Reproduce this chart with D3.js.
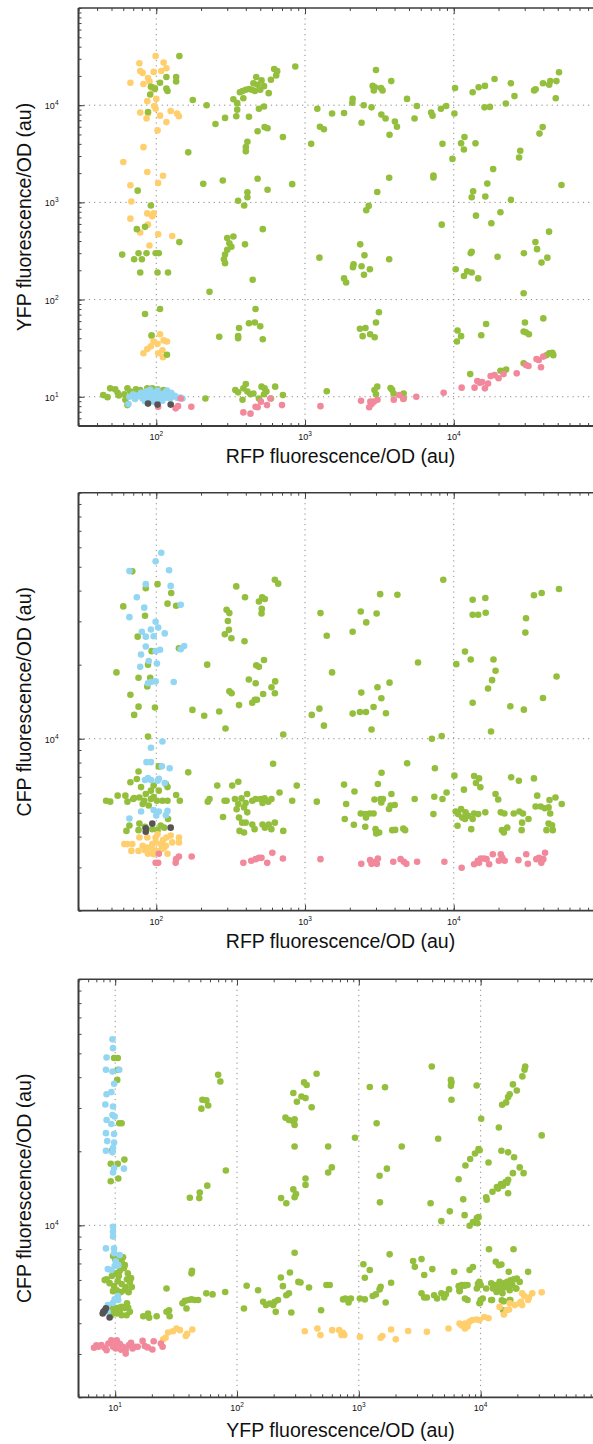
<!DOCTYPE html>
<html>
<head>
<meta charset="utf-8">
<script src="https://cdn.jsdelivr.net/npm/d3@7"></script>
<style>
  body { margin: 0; background: #fff; }
  svg { display: block; font-family: "Liberation Sans", Arial, Helvetica, sans-serif; }
</style>
</head>
<body>
<div id="chart"></div>
<script>
// ---- panel 1 : YFP vs RFP
const p1Yellow = [[77,27000],[99,32000],[112,27500],[78,22500],[81,21500],[96,22000],[108,22500],[117,24000],[88,19000],[90,17500],[67,17000],[82,16500],[97,15200],[95,14400],[100,11600],[87,11000],[97,9800],[99,9200],[78,8400],[88,8200],[106,7800],[125,8700],[138,8200],[142,7700],[86,7300],[117,6700],[102,5500],[82,3700],[60,2600],[87,2050],[111,1880],[103,1580],[67,1500],[68,1020],[87,770],[96,770],[94,720],[67,680],[88,590],[78,490],[103,470],[128,450],[90,360],
  [92,33],[106,44],[96,37],[102,35],[112,38],[118,37],[87,31],[82,28],[103,28],[110,30],[111,25.5],[93,42]];
const p1Green = [[143,32000],[117,19500],[136,19500],[136,17500],[106,17000],[92,15500],[98,14800],[117,14800],[119,14000],[91,12900],[176,11300],[218,10000],[88,8500],[164,3270],[75,1320],[92,930],[74,530],[84,560],[143,390],[59,290],[76,300],[86,300],[99,300],[104,300],[71,260],[80,260],[78,190],[102,190],[120,190],[228,120],[84,71],[106,80],[93,43],[118,27],
  [860,25000],[620,23500],[650,22400],[640,20200],[590,18300],[470,19500],[510,18000],[450,16800],[480,16200],[530,15700],[500,14400],[440,14400],[420,14700],[400,14400],[380,14000],[365,13600],[330,11500],[385,11800],[460,14000],[570,13300],[350,10500],[490,9200],[530,9700],[350,9000],[290,7400],[345,7700],[420,7600],[250,6400],[480,5400],[535,5950],[560,5800],[710,4700],[410,4200],[400,3700],[400,3350],[207,1550],[280,1680],[480,1750],[820,1540],[560,1350],[410,1270],[410,1130],[355,1040],[390,930],[520,530],[300,430],[330,445],[310,380],[320,350],[300,325],[290,290],[285,260],[290,237],[395,370],[445,160],[465,80],[420,57],[460,58],[500,53],[360,51],[355,42],[355,40],[265,41.5],[520,39],
  [44,10.4],[47,9.9],[49,12.2],[53,11.9],[55,11.0],[64,12.2],[62,9.3],[64,8.2],[67,11.3],[73,11.9],[78,11.7],[87,12.2],[94,12.2],[102,11.9],[112,11.7],[71,10.4],[83,10.8],[118,10.8],[61,10.6],[56,10.3],[76,10.2],[89,11.4],[214,9.6],
  [340,11.7],[355,11.1],[385,12.2],[400,13.5],[410,11.3],[430,10.6],[450,10.8],[380,9.3],[510,12.7],[535,12.2],[550,11.3],[530,10.6],[630,12.7],[710,10.4],[590,9.6],[490,9.6],
  [3000,23000],[3800,17700],[2850,15800],[2950,15300],[3240,15000],[3320,14200],[2900,14200],[2090,11600],[2080,10600],[4850,11600],[2480,10000],[2800,9500],[1210,9200],[5650,9800],[1520,8200],[1830,8300],[3260,8000],[3480,7300],[4020,6800],[5450,7300],[2400,6600],[1260,6000],[1340,5650],[4150,6000],[3700,4950],[1100,4000],[7050,8400],[7200,7800],[8200,9200],[8900,9800],[10100,8200],[10200,15000],[13400,13600],[14700,15300],[16200,15800],[18800,18600],[24200,16800],[25600,12400],[22400,10400],[17500,9600],[16100,9500],[34700,14200],[35500,14600],[39800,16800],[43800,16200],[44600,17700],[49000,17700],[51000,21800],[48500,11800],[39600,5950],[37700,5100],[11800,4700],[11200,4050],[11700,3500],[14000,4050],[8400,4000],[9800,2800],[28000,3400],[27500,2900],[18400,2200],[16800,1560],[3680,1790],[7300,1890],[7300,1800],[53000,1510],[3060,1280],[13500,1300],[13200,1130],[16300,1150],[24200,1060],[2680,920],[2580,830],[20600,790],[14100,730],[8300,590],[17900,610],[43700,500],[35400,390],[36300,330],[13200,310],[13000,300],[29600,300],[42600,270],[38900,240],[19700,276],[1250,270],[3680,260],[2350,370],[2510,285],[2120,230],[2100,215],[2400,220],[2730,205],[2490,180],[1830,165],[1890,150],[10300,205],[12300,195],[11700,175],[13200,190],[14600,165],[29500,116],[3140,74],[3000,58],[2550,51],[2340,50],[2440,42],[2740,44],[2940,41],[10600,48],[11200,42],[10500,37],[16500,56],[15300,43],[30100,58],[40000,64],[29500,47],[30500,46],[32000,44],
  [1400,11.4],[2930,11.7],[3060,12.7],[3000,10.6],[3760,12.3],[3850,11.8],[3940,10.8],[4600,10.8],[4600,9.6],[12900,17.1],[20600,18.5],[22500,19.1],[21500,18.4],[29500,22.1],[43800,28],[46000,28.4],[46700,26.8],[42000,26.7]];
const p1Blue = [[65,8.4],[66,10.0],[70,10.6],[72,9.5],[76,10.2],[79,11.0],[81,9.6],[84,10.4],[84,9.0],[86,11.4],[88,9.8],[90,10.8],[92,9.3],[94,10.2],[96,11.0],[96,8.9],[98,9.6],[100,10.4],[102,11.6],[104,9.8],[106,10.6],[108,9.3],[110,9.1],[111,10.2],[114,11.0],[117,9.8],[120,10.4],[124,9.6],[128,10.0],[133,10.2],[139,9.7],[145,9.8],[150,9.6],[118,11.6],[126,11.0],[91,11.8]];
const p1Pink = [[103,7.9],[135,7.6],[140,8.0],[172,7.9],[146,9.6],[385,6.9],[430,6.7],[465,7.9],[480,7.8],[505,8.9],[555,8.2],[585,9.6],[700,8.2],[1270,8.0],[2380,9.1],[2750,8.9],[2800,8.4],[2700,7.8],[2900,8.9],[3070,9.3],[3950,9.3],[4300,10.4],[4580,9.5],[5600,10.0],[8550,11.0],[11300,12.4],[13800,12.4],[14400,14.5],[15000,13.9],[16200,12.2],[17000,13.7],[17700,16.3],[18800,16.7],[20000,15.5],[21600,17.1],[26500,17.4],[30600,21.2],[31800,20.7],[36000,24.4],[38600,20.1],[37300,23.9],[40000,25.9],[15500,14.2]];
const p1Gray = [[88,8.5],[102,8.3],[125,8.3]];

// ---- panel 2 : CFP vs RFP
const p2Yellow = [[64,3730],[68,3500],[69,3730],[77,3970],[87,3970],[102,4090],[117,3970],[125,4040],[142,3970],[142,3790],[128,3790],[61,3730],[81,3670],[87,3610],[94,3730],[99,3790],[107,3730],[116,3670],[76,3500],[84,3520],[94,3560],[100,3500],[109,3560],[88,3410],[96,3390],[119,3410],[113,3610],[99,3970],[111,3870]];
const p2Green = [[104,7720],[164,7300],[76,7360],[67,6650],[74,6860],[79,6360],[96,6450],[119,6360],[55,5870],[46,5600],[49,5550],[62,5870],[64,5550],[70,5690],[77,5770],[85,5960],[92,6150],[104,6150],[92,5690],[101,5600],[110,5600],[119,5600],[81,5430],[89,5350],[136,5910],[144,5600],[120,4720],[66,4440],[63,4220],[77,4520],[84,4390],[107,4440],[113,4350],[76,4250],[94,4290],[102,4250],[71,5740],[96,5790],[83,5600],
  [69,47900],[102,42500],[85,40900],[126,39100],[119,35400],[136,34700],[60,34500],[84,31600],[75,26000],[93,22700],[142,23300],[54,18600],[88,20000],[76,17700],[87,16300],[91,17700],[67,15100],[76,13500],[98,13400],[71,12500],[88,10200],[107,7730],[116,6550],[257,6450],[324,6450],[356,6690],[880,6450],[222,5550],[228,5690],[288,5600],[338,5690],[374,5720],[408,5960],[399,5480],[442,5600],[466,5690],[503,5690],[535,5720],[518,5480],[567,5550],[595,5690],[674,6050],[820,5600],[610,7910],[356,5430],[347,5170],[389,5260],[409,5020],[360,4780],[378,4560],[399,4560],[442,4480],[363,4220],[389,4160],[458,4290],[518,4480],[537,4350],[570,4480],[594,4290],[627,4560],[714,4220],[281,4810],[297,5600],
  [345,41600],[395,37600],[297,33400],[310,32400],[303,30100],[308,27700],[289,26600],[320,25600],[392,24900],[490,36100],[515,37600],[537,37000],[512,33700],[510,32300],[627,44300],[660,42700],[220,20000],[470,19900],[490,19600],[530,20900],[419,17400],[466,16800],[630,17100],[595,16200],[627,15300],[310,15600],[321,15300],[360,13700],[442,14000],[460,14400],[475,14400],[523,15200],[175,13100],[210,12400],[265,12900],[292,11000],[714,10400],
  [8500,44300],[3200,38700],[4180,38500],[1270,32400],[2370,32900],[3030,32300],[2580,29700],[1400,26200],[2090,27200],[5750,20400],[1520,18600],[3700,16900],[2390,15400],[3070,16200],[3260,14600],[2890,13450],[3500,12700],[2090,12650],[2340,12850],[2570,12850],[1250,13250],[1110,12500],[1340,11300],[2800,10900],[7130,10000],[8300,10250],[13400,36700],[16300,37300],[13400,31900],[14600,31900],[16400,32500],[34600,38300],[39000,39100],[51000,40600],[30600,30900],[30300,27000],[11900,22600],[13000,20990],[10400,20100],[18500,20990],[19100,18900],[18100,17300],[17000,16000],[13400,14000],[49100,17900],[39800,14650],[24000,13550],[29600,13130],[17800,10700],
  [1200,5550],[1830,6510],[2150,6100],[1890,5430],[1850,4720],[2130,4470],[3270,7270],[3090,6550],[2930,5660],[3220,5690],[3340,5690],[3260,5510],[2370,4970],[2540,4940],[2720,4970],[2890,4970],[2570,4780],[2540,4390],[2980,4290],[3010,4120],[3150,4160],[3810,5960],[3760,5350],[3670,5180],[4010,5380],[3860,4250],[4040,4260],[4580,4310],[4710,4250],[4860,7950],[5460,5690],[7300,4940],[7400,5810],[7470,7590],[8400,5690],[8950,6050],[10100,7080],[11700,6210],[13700,7050],[14100,6610],[14800,6900],[15100,6350],[19100,5960],[19900,5660],[24300,6970],[27400,6750],[34600,6900],[36400,5870],[35500,5300],[38400,5300],[40900,5220],[43400,5260],[44500,4970],[44000,5630],[48300,5770],[53200,5430],[10300,5060],[11200,5180],[10700,4940],[11400,4780],[11900,4720],[12500,4860],[12000,5020],[13400,4720],[14600,4940],[13700,4970],[16300,5020],[13100,4290],[10600,4430],[20700,5020],[21900,4970],[25300,4970],[27600,5060],[29200,4970],[28800,4560],[31800,4720],[21100,4250],[21700,4160],[22900,4350],[28600,4250],[43400,4520],[45800,4450],[42000,4250],[46300,4250]];
const p2Blue = [[108,57000],[99,52600],[66,48000],[122,48400],[85,42500],[125,41800],[74,37600],[146,35000],[83,34100],[66,31200],[99,29900],[80,27200],[92,27800],[103,28300],[114,26800],[85,26000],[96,26100],[154,23800],[146,23100],[85,23700],[99,22700],[106,23000],[79,22000],[89,20700],[78,19600],[101,20200],[92,17000],[99,17100],[88,16800],[131,17000],
  [110,9750],[92,9190],[86,8030],[92,8030],[109,7730],[123,7590],[84,6800],[92,6800],[102,6750],[114,6610],[79,5060],[96,5130],[104,5060],[119,5090],[100,4870],[116,4890],[66,4740],[88,6920],[104,6880]];
const p2Pink = [[104,3410],[99,3130],[103,3130],[136,3240],[142,3320],[135,3130],[173,3320],[385,3130],[435,3190],[466,3240],[490,3280],[510,3280],[557,3130],[603,3440],[710,3260],
  [1270,3240],[2390,3100],[2740,3210],[2800,3100],[2980,3160],[3090,3260],[3040,3100],[3920,3160],[4390,3240],[4620,3160],[4800,3100],[5670,3160],[8650,3160],[11300,2990],[13700,3090],[14500,3190],[15200,3260],[16000,3260],[16600,3240],[17300,3090],[18300,3390],[20700,3390],[20100,3190],[22000,3190],[21200,3280],[27200,3210],[30700,3390],[31500,3100],[35900,3240],[37400,3280],[38800,3130],[40000,3240],[41100,3440],[14800,3130]];
const p2Gray = [[85,4320],[85,4190],[94,4520],[125,4350]];

// ---- panel 3 : CFP vs YFP
const p3Yellow = [[360,3710],[457,3810],[484,3580],[605,3750],[690,3750],[720,3580],[740,3660],[760,3580],[1020,3520],[1510,3490],[1560,3550],[1840,3770],[2010,3440],[2540,3720],[3620,3690],[5450,3810],[6710,3990],[7000,3920],[7430,3990],[7430,3810],[8110,4060],[8530,4120],[9230,4140],[9770,4120],[10700,4240],[11600,4190],[7800,3880],[14300,4660],[15500,4340],[16300,4520],[17100,4550],[17300,4820],[19100,4740],[21400,4890],[21900,5290],[22800,5160],[24900,5090],[21900,4740],[31700,5340],[20900,4820],[24500,4970],[26500,5290],
  [27.2,3670],[29.8,3710],[31.9,3810],[34.0,3750],[38,3550],[39,3620],[43,3770],[25.9,3490],[24.8,3440]];
const p3Green = [[9.8,47900],[10.5,47900],[10.5,42900],[10.4,39000],[10.8,26000],[11.3,26000],[11.9,18500],[9.4,20100],[9.2,17800],[10.5,17800],[9.2,15100],[10.6,15500],
  [41,12950],[49.5,13600],[49,12900],[57,14500],[70,40900],[73,38400],[52,32400],[56,32200],[58,30700],[51,29800],[81,16700],
  [9.4,6220],[10.1,6390],[10.9,6520],[11.8,6700],[12.7,6390],[13.5,6100],[9.0,5820],[9.8,5660],[10.5,5930],[11.3,5770],[12.2,5610],[13.2,5880],[9.6,5400],[10.3,5450],[11.1,5350],[12.0,5450],[12.9,5350],[8.5,6040],[13.7,5610],[10.7,6220],[12.5,6040],[11.3,7100],[10.9,7370],[12.0,6890],[10,7300],[9.6,7500],[11.6,7420],[8.2,5990],
  [9.3,4660],[9.9,4610],[10.6,4620],[11.3,4660],[12.0,4610],[12.8,4620],[13.2,4450],[10.3,4380],[11.3,4310],[12.4,4310],[9.3,4310],[10.9,4450],[9.6,4450],[8.2,4470],[12.5,4820],
  [17,4270],[18.6,4380],[19,4210],[21.9,4270],[26.4,5540],[26.4,4450],[27.7,4520],[28,4270],[35.7,4820],[37.3,4930],[38.5,4590],[40,4970],[42.3,5000],[45,4970],[42.3,6380],[42.7,6530],[48,4970],[56,5290],[63,5240],[80,5360],[120,5680],[114,4590],[149,5450],[164,4890],[173,4740],[186,4810],[198,4740],[204,4890],[217,4970],[208,4450],[254,5200],[267,5290],[279,4420],[229,6140],[238,5660],[272,6430],[297,7740],[319,5890],
  [250,27400],[267,26800],[290,34500],[310,31800],[338,33400],[365,32900],[410,30200],[355,38100],[373,37200],[450,41300],[290,26400],[297,27000],[297,25600],[297,20900],[560,20900],[560,16400],[600,17200],[365,15500],[365,14600],[290,14000],[305,13400],[297,13000],[230,12900],[254,12300],
  [1230,36500],[1640,36400],[3970,44200],[5700,39000],[5760,38100],[5700,36900],[5760,32400],[9270,37000],[1400,26000],[930,22700],[2250,20900],[4480,22500],[10100,27100],[14100,25000],[15000,30900],[16200,31600],[16800,33200],[17300,34100],[18400,37400],[19800,35300],[22000,40300],[22900,42900],[23200,44200],[31700,23200],[1700,17000],[1480,15900],[1490,12400],[3880,12300],[4760,10400],[5580,11400],[6590,15400],[7190,12750],[7380,11000],[7500,17500],[8200,18600],[8980,19600],[9600,20400],[9800,20200],[8110,9960],[8650,10300],[9300,10700],[9620,10800],[9400,10200],[11600,18000],[14800,20100],[16800,19800],[18800,18900],[20900,17200],[22500,16300],[18400,16300],[16800,15300],[16500,14900],[14700,14700],[13600,14300],[12500,13700],[11100,13000],[11200,12700],[13900,14100],[15200,14500],[16000,15000],[16800,13500],
  [332,5860],[390,5590],[542,5720],[577,5720],[490,4520],[742,5000],[775,5040],[823,4860],[860,5040],[1020,5040],[1120,5000],[1090,6950],[1230,6580],[1120,6120],[1300,5160],[1380,5240],[1480,5490],[1510,5630],[1660,4860],[1790,7620],[1840,5840],[2790,7160],[2880,6780],[3270,7290],[3440,6280],[4010,6640],[3270,5290],[3440,5090],[3620,5090],[4150,5200],[4390,5040],[4760,5290],[5180,5250],[5020,5090],[5500,5490],[6060,6470],[6710,5450],[7000,5720],[7400,5720],[7800,5720],[8110,6580],[8640,6770],[7430,5040],[7800,4970],[9300,5540],[9770,5890],[9880,4840],[10400,5040],[11700,7990],[12400,4970],[11100,5540],[13300,7110],[14100,6890],[14800,6930],[17000,6470],[18600,7990],[24500,6470],[17300,4970],[14900,4960],[15300,4520],[9500,5780],[19500,5540],[15500,4910],[17500,4970],[12200,4970],[10000,4970],[9770,4820],[6710,5400],[6900,5660],[7400,5680],[6600,5660],[10000,5720],
  [12200,5810],[13000,5720],[14000,5540],[14700,5620],[15500,5810],[16500,5890],[17600,5980],[18700,6030],[19800,6080],[13500,5360],[15100,5290],[17300,5450],[14300,5890],[16100,5620],[18200,5720],[12600,5540],[19600,5540],[14300,5450],[13500,5720],[15100,5540],[17300,5720],[20900,5890]];
const p3Blue = [[9.5,57000],[9.6,52500],[8.5,48100],[8.4,42900],[9.5,42200],[10.8,42900],[9.8,37600],[8.5,34100],[9.3,34800],[8.3,31000],[9.6,30400],[9.5,28100],[9.9,27700],[8.5,26800],[9.3,25800],[8.4,23700],[9.8,23500],[8.6,22000],[9.8,21700],[9.6,20600],[8.4,20100],[9.5,19800],[9.8,17100],[11.8,17000],[9.6,16400],[9.6,9870],[9.6,9420],[9.6,9000],[8.4,8060],[9.8,8060],[10.9,7570],[8.7,6640],[9.3,6580],[9.9,6830],[10.6,6890],[9.9,5000],[9.6,4840],[10.6,4970],[8.7,4740],[8.7,4450],[10.5,5160],[10.1,7150],[9.8,7700]];
const p3Pink = [[6.7,3180],[7.3,3210],[7.7,3260],[8.2,3180],[8.8,3310],[9.3,3410],[9.6,3210],[10.1,3160],[10.9,3300],[11.6,3210],[12.2,3130],[13.0,3260],[13.9,3160],[14.5,3210],[15.3,3210],[16.8,3390],[17.5,3230],[20.2,3130],[20.7,3380],[23.7,3310],[24.5,3210],[12.2,3010],[9.9,3330],[8.5,3110],[10.3,3410],[7.0,3250],[11.2,3120],[13.5,3330],[18.5,3190]];
const p3Gray = [[8.2,4500],[7.9,4380],[8.4,4600],[9.0,4220],[8.0,4450]];

const colors = { green: "#93bf3c", yellow: "#ffcf6e", blue: "#92d6f3", pink: "#f2889b", gray: "#555555" };

const W = 593, H = 1444;
const plotLeft = 78.5, plotWidth = 524, plotHeight = 418;

const panels = [
  { top: 8, x: [30, 1e5], y: [5, 1e5], xTitle: "RFP fluorescence/OD (au)", yTitle: "YFP fluorescence/OD (au)", gap: 37,
    series: [[p1Yellow, "yellow"], [p1Green, "green"], [p1Blue, "blue"], [p1Pink, "pink"], [p1Gray, "gray"]] },
  { top: 492.7, x: [30, 1e5], y: [2000, 1e5], xTitle: "RFP fluorescence/OD (au)", yTitle: "CFP fluorescence/OD (au)", gap: 37,
    series: [[p2Green, "green"], [p2Blue, "blue"], [p2Yellow, "yellow"], [p2Pink, "pink"], [p2Gray, "gray"]] },
  { top: 979.3, x: [5, 1e5], y: [2000, 1e5], xTitle: "YFP fluorescence/OD (au)", yTitle: "CFP fluorescence/OD (au)", gap: 40,
    series: [[p3Green, "green"], [p3Blue, "blue"], [p3Yellow, "yellow"], [p3Pink, "pink"], [p3Gray, "gray"]] }
];

const svg = d3.select("#chart").append("svg")
    .attr("width", W)
    .attr("height", H);

svg.append("rect").attr("width", W).attr("height", H).attr("fill", "#fff");

const isDecade = v => Math.abs(Math.log10(v) - Math.round(Math.log10(v))) < 1e-9;

// little helper for the 10^n labels
function powLabel(sel) {
    sel.append("tspan").text("10");
    sel.append("tspan").attr("dy", -4).attr("font-size", 6.5).text(d => Math.round(Math.log10(d)));
}

panels.forEach(function(p) {
    const g = svg.append("g").attr("transform", `translate(${plotLeft},${p.top})`);

    const x = d3.scaleLog().domain(p.x).range([0, plotWidth]);
    const y = d3.scaleLog().domain(p.y).range([plotHeight, 0]);

    const xAll = x.ticks(), yAll = y.ticks();
    const xMaj = xAll.filter(isDecade).filter(v => x(v) > 0.5 && x(v) < plotWidth - 0.5);
    const yMaj = yAll.filter(isDecade).filter(v => y(v) > 0.5 && y(v) < plotHeight - 0.5);

    // --- dotted grid
    const grid = g.append("g").attr("stroke", "#8a8a8a").attr("stroke-width", 1).attr("stroke-dasharray", "1.2,4");
    grid.selectAll(".gx").data(xMaj).join("line")
        .attr("x1", d => x(d)).attr("x2", d => x(d)).attr("y1", 0).attr("y2", plotHeight);
    grid.selectAll(".gy").data(yMaj).join("line")
        .attr("y1", d => y(d)).attr("y2", d => y(d)).attr("x1", 0).attr("x2", plotWidth);

    // --- ticks (inward), minor then major
    const tickAxis = (axis, size, vals) => axis.tickValues(vals).tickSize(size).tickSizeOuter(0).tickFormat("");
    const styleAxis = a => { a.select(".domain").remove(); a.selectAll("line").attr("stroke", "#444").attr("stroke-width", 1); };

    g.append("g").attr("transform", `translate(0,${plotHeight})`).call(tickAxis(d3.axisBottom(x), -3, xAll)).call(styleAxis);
    g.append("g").attr("transform", `translate(0,${plotHeight})`).call(tickAxis(d3.axisBottom(x), -6, xMaj)).call(styleAxis);
    g.append("g").call(tickAxis(d3.axisTop(x), -3, xAll)).call(styleAxis);
    g.append("g").call(tickAxis(d3.axisTop(x), -6, xMaj)).call(styleAxis);
    g.append("g").call(tickAxis(d3.axisLeft(y), -3, yAll)).call(styleAxis);
    g.append("g").call(tickAxis(d3.axisLeft(y), -6, yMaj)).call(styleAxis);

    // --- points
    p.series.forEach(function(s) {
        g.append("g").selectAll("circle")
            .data(s[0])
            .join("circle")
            .attr("cx", d => x(d[0]))
            .attr("cy", d => y(d[1]))
            .attr("r", 3.3)
            .attr("fill", colors[s[1]]);
    });

    // --- frame
    const frame = g.append("g").attr("stroke", "#3c3c3c").attr("fill", "none");
    frame.append("line").attr("x1", 0).attr("x2", plotWidth).attr("y1", 0).attr("y2", 0).attr("stroke-width", 1.5);
    frame.append("line").attr("x1", 0).attr("x2", plotWidth).attr("y1", plotHeight).attr("y2", plotHeight).attr("stroke-width", 1.8);
    frame.append("line").attr("x1", 0).attr("x2", 0).attr("y1", 0).attr("y2", plotHeight).attr("stroke-width", 2);
    frame.append("line").attr("x1", plotWidth).attr("x2", plotWidth).attr("y1", 0).attr("y2", plotHeight).attr("stroke-width", 1.5);

    // --- tick labels
    g.append("g").selectAll("text").data(xMaj).join("text")
        .attr("x", d => x(d)).attr("y", plotHeight + 14)
        .attr("text-anchor", "middle").attr("font-size", 9).attr("fill", "#111")
        .call(powLabel);
    g.append("g").selectAll("text").data(yMaj).join("text")
        .attr("x", -20).attr("y", d => y(d) + 4)
        .attr("text-anchor", "end").attr("font-size", 9).attr("fill", "#111")
        .call(powLabel);

    // --- axis titles
    g.append("text")
        .attr("x", plotWidth / 2).attr("y", plotHeight + p.gap)
        .attr("text-anchor", "middle").attr("font-size", 19.5).attr("fill", "#111")
        .text(p.xTitle);
    g.append("text")
        .attr("transform", `translate(-48,${plotHeight / 2}) rotate(-90)`)
        .attr("text-anchor", "middle").attr("font-size", 19.5).attr("fill", "#111")
        .text(p.yTitle);
});
</script>
</body>
</html>
